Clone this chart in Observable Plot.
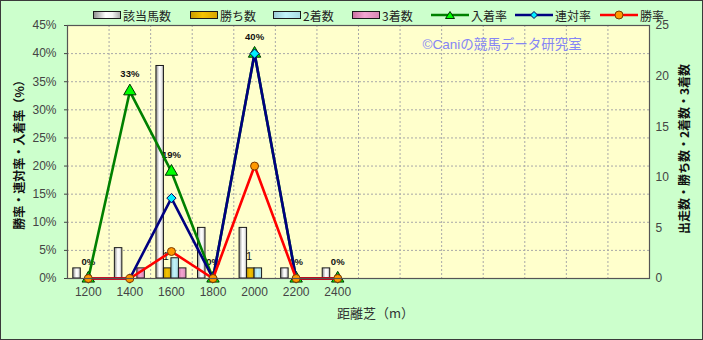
<!DOCTYPE html>
<html><head><meta charset="utf-8">
<script src="https://cdn.jsdelivr.net/npm/d3@7"></script>
<script src="https://cdn.jsdelivr.net/npm/@observablehq/plot@0.6"></script>
<style>
body{margin:0;background:#CCFFCC;}
#wrap{position:relative;width:703px;height:340px;background:#CCFFCC;font-family:"Liberation Sans","Noto Sans CJK JP",sans-serif;overflow:hidden}
#chart{position:absolute;left:0;top:0}
#border{position:absolute;left:0;top:0;width:703px;height:340px;box-sizing:border-box;border:1px solid #3a3a3a;pointer-events:none;}
.lg{position:absolute;top:8px;font-size:12px;color:#222;display:flex;align-items:center;height:14px;white-space:nowrap;font-family:"Noto Sans CJK JP",sans-serif}
.lg svg{margin-right:2px}
</style></head>
<body><div id="wrap">
<svg width="0" height="0" style="position:absolute">
<defs>
<linearGradient id="gW" x1="0" x2="1" y1="0" y2="0"><stop offset="0" stop-color="#8c8c8c"/><stop offset="0.45" stop-color="#ffffff"/><stop offset="0.7" stop-color="#f4f4f4"/><stop offset="1" stop-color="#a8a8a8"/></linearGradient>
<linearGradient id="gY" x1="0" x2="1" y1="0" y2="0"><stop offset="0" stop-color="#c89a00"/><stop offset="0.45" stop-color="#f5c400"/><stop offset="1" stop-color="#d9a800"/></linearGradient>
<linearGradient id="gC" x1="0" x2="1" y1="0" y2="0"><stop offset="0" stop-color="#9ccbd4"/><stop offset="0.45" stop-color="#c2f4fb"/><stop offset="1" stop-color="#a9dbe3"/></linearGradient>
<linearGradient id="gP" x1="0" x2="1" y1="0" y2="0"><stop offset="0" stop-color="#c9709f"/><stop offset="0.45" stop-color="#f4a6d2"/><stop offset="1" stop-color="#d888b4"/></linearGradient>
</defs></svg>
<div id="chart"></div>
<div id="legend"></div>
<div id="border"></div>
</div>
<script>
// categories
const distances = ["1200","1400","1600","1800","2000","2200","2400"];
const emptyCats = ["e1","e2","e3","e4","e5","e6","e7"];
// counts (right axis)
const starters = [1,3,21,5,5,1,1];
const wins     = [0,0,1,0,1,0,0];
const seconds  = [0,0,2,0,1,0,0];
const thirds   = [0,1,1,0,0,0,0];
// rates in % (left axis)
const placeRate  = [0,33.3,19.0,0,40,0,0];
const rentaiRate = [0,0,14.3,0,40,0,0];
const winRate    = [0,0,4.8,0,20,0,0];
const placeLabels = ["0%","33%","19%","0%","40%","0%","0%"];
// ticks
const leftTicks = [0,5,10,15,20,25,30,35,40,45];
const rightTicks = [0,5,10,15,20,25];
const rateMax = 45, countMax = 25;

const k = rateMax / countMax;
const idx = distances.map((d,i)=>i);
const W = 703, H = 340, mL = 67, mR = 54, mT = 25, mB = 62;
const bw = (W - mL - mR) / (distances.length + emptyCats.length);
const barW = 7.5;
const inset = (bw - barW) / 2;

const barSeries = [
  {vals: starters, fill: "url(#gW)", dx: -1.5*barW},
  {vals: wins, fill: "url(#gY)", dx: -0.5*barW},
  {vals: seconds, fill: "url(#gC)", dx: 0.5*barW},
  {vals: thirds, fill: "url(#gP)", dx: 1.5*barW}
];

const bars = barSeries.map(s => Plot.barY(idx.filter(i => s.vals[i] > 0), {
  x: i => distances[i], y: i => s.vals[i] * k, fill: s.fill, stroke: "#1a1a1a", strokeWidth: 1,
  insetLeft: inset, insetRight: inset, dx: s.dx
}));

const lineSeries = [
  {vals: placeRate, stroke: "#008000", symbol: "triangle", r: 4.6, fill: "#00ff00", ms: "#003300"},
  {vals: rentaiRate, stroke: "#000080", symbol: "diamond2", r: 4.2, fill: "#00f0ff", ms: "#000060"},
  {vals: winRate, stroke: "#ff0000", symbol: "circle", r: 4, fill: "#ff9900", ms: "#7a3a00"}
];

const lines = [];
lineSeries.forEach(s => {
  lines.push(Plot.line(idx, {x: i => distances[i], y: i => s.vals[i], stroke: s.stroke, strokeWidth: 2.6}));
  lines.push(Plot.dot(idx, {x: i => distances[i], y: i => s.vals[i], symbol: s.symbol, r: s.r, fill: s.fill, stroke: s.ms, strokeWidth: 1}));
});

const chart = Plot.plot({
  width: W, height: H,
  marginLeft: mL, marginRight: mR, marginTop: mT, marginBottom: mB,
  style: {background: "transparent", fontFamily: "'Liberation Sans','Noto Sans CJK JP',sans-serif", fontSize: "11px", color: "#444"},
  x: {type: "band", domain: [...distances, ...emptyCats], padding: 0, round: false},
  y: {domain: [0, rateMax]},
  marks: [
    Plot.frame({fill: "#FFFFCC", stroke: "none"}),
    Plot.ruleY(leftTicks.slice(1), {stroke: "#a8a8a8", strokeDasharray: "2,2", strokeWidth: 1}),
    Plot.ruleX([...distances, ...emptyCats].slice(0, -1), {x: d => d, dx: bw/2, stroke: "#a8a8a8", strokeDasharray: "2,2", strokeWidth: 1}),
    Plot.axisY(leftTicks, {anchor: "left", tickFormat: d => d + "%", tickSize: 3, tickPadding: 8, label: null, fill: "#444", fontSize: 12}),
    Plot.axisY(rightTicks.map(v => v * k), {anchor: "right", tickFormat: v => String(Math.round(v / k)), tickSize: 0, tickPadding: 6, label: null, fill: "#444", fontSize: 12}),
    Plot.axisX(distances, {anchor: "bottom", tickSize: 0, tickPadding: 9, label: null, fill: "#444", fontSize: 12}),
    Plot.text(["©Caniの競馬データ研究室"], {frameAnchor: "top-left", dx: 355, dy: 14, textAnchor: "start", fill: "#8585f5", fontSize: 13.5}),
    ...bars,
    Plot.text(idx.filter(i => wins[i] > 0), {x: i => distances[i], y: i => wins[i] * k, text: i => String(wins[i]), dx: -5.5, dy: -12, fontSize: 11, fill: "#111"}),
    Plot.text(idx, {x: i => distances[i], y: i => placeRate[i], text: i => placeLabels[i], dy: -17, fontSize: 9.5, fontWeight: "bold", fill: "#111"}),
    ...lines,
    Plot.frame({stroke: "#555", strokeWidth: 1.2}),
    Plot.text(["勝率・連対率・入着率（%）"], {frameAnchor: "left", textAnchor: "middle", rotate: -90, dx: -47, fontWeight: "bold", fontSize: 12, fill: "#111", fontFamily: "Noto Sans CJK JP"}),
    Plot.text(["出走数・勝ち数・2着数・3着数"], {frameAnchor: "right", textAnchor: "middle", rotate: -90, dx: 36, dy: -3, fontWeight: "bold", fontSize: 12, fill: "#111", fontFamily: "Noto Sans CJK JP"}),
    Plot.text(["距離芝（m）"], {frameAnchor: "bottom", textAnchor: "middle", dx: 17, dy: 39, fontSize: 13, fill: "#333", fontFamily: "Noto Sans CJK JP"})
  ]
});
document.getElementById("chart").appendChild(chart);

// legend
const legendItems = [
  {type: "bar", fill: "url(#gW)", label: "該当馬数", x: 93},
  {type: "bar", fill: "url(#gY)", label: "勝ち数", x: 190},
  {type: "bar", fill: "url(#gC)", label: "2着数", x: 273},
  {type: "bar", fill: "url(#gP)", label: "3着数", x: 352},
  {type: "line", stroke: "#008000", marker: "tri", fill: "#00ff00", ms: "#003300", label: "入着率", x: 431},
  {type: "line", stroke: "#000080", marker: "dia", fill: "#00f0ff", ms: "#000060", label: "連対率", x: 515},
  {type: "line", stroke: "#ff0000", marker: "cir", fill: "#ff9900", ms: "#7a3a00", label: "勝率", x: 600}
];
const lg = document.getElementById("legend");
legendItems.forEach(it => {
  const d = document.createElement("div");
  d.className = "lg";
  d.style.left = it.x + "px";
  let sw;
  if (it.type === "bar") {
    sw = `<svg width="28" height="10"><rect x="0.5" y="1.5" width="27" height="7" fill="${it.fill}" stroke="#1a1a1a" stroke-width="1"/></svg>`;
  } else {
    let m = "";
    if (it.marker === "tri") m = `<path d="M19,1.5 L23.5,8.5 L14.5,8.5 Z" fill="${it.fill}" stroke="${it.ms}"/>`;
    if (it.marker === "dia") m = `<path d="M19,1.5 L22.5,5 L19,8.5 L15.5,5 Z" fill="${it.fill}" stroke="${it.ms}"/>`;
    if (it.marker === "cir") m = `<circle cx="19" cy="5" r="4" fill="${it.fill}" stroke="${it.ms}"/>`;
    sw = `<svg width="38" height="10"><line x1="0" y1="5" x2="38" y2="5" stroke="${it.stroke}" stroke-width="2.5"/>${m}</svg>`;
  }
  d.innerHTML = sw + `<span>${it.label}</span>`;
  lg.appendChild(d);
});
</script>
</body></html>
